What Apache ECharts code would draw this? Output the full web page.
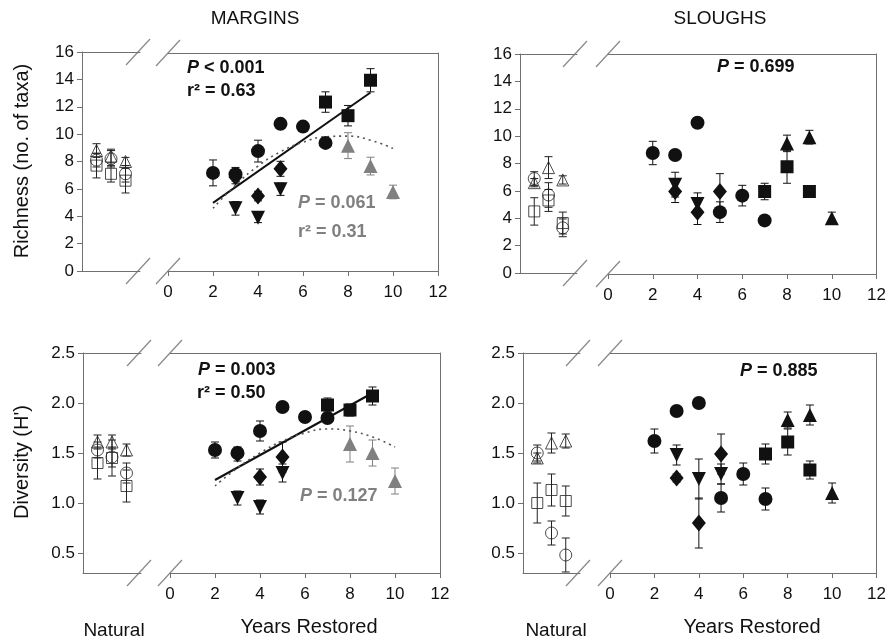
<!DOCTYPE html>
<html>
<head>
<meta charset="utf-8">
<script src="https://cdn.jsdelivr.net/npm/echarts@6/dist/echarts.min.js"></script>
<style>html,body{margin:0;padding:0;background:#fff}#main{width:889px;height:642px}</style>
</head>
<body>
<div id="main"></div>
<script>
// values are [x, mean, se]; natural sites are plotted at x = 1, 2, 3
// --- margins, richness ---
const mrNatTri = [[1, 8.8, 0.5], [2, 8.4, 0.5], [3, 8.0, 0.3]];
const mrNatCirc = [[1, 8.1, 0.5], [2, 8.2, 0.6], [3, 7.1, 0.6]];
const mrNatSq = [[1, 7.7, 0.9], [2, 7.1, 0.6], [3, 6.6, 0.9]];
const mrCirc = [[2, 7.2, 0.95], [3, 7.1, 0.5], [4, 8.8, 0.8], [5, 10.8, 0.2], [6, 10.6, 0.2], [7, 9.4, 0.2]];
const mrDiam = [[3, 6.9, 0.5], [4, 5.5, 0.35], [5, 7.5, 0.55]];
const mrDown = [[3, 4.6, 0.5], [4, 3.9, 0.35], [5, 6.0, 0.45]];
const mrSq = [[7, 12.4, 0.75], [8, 11.4, 0.75], [9, 14.0, 0.85]];
const mrGreyTri = [[8, 9.2, 0.95], [9, 7.7, 0.65], [10, 5.8, 0.5]];
const mrFit = [[2, 5.0], [9, 13.1]];
const mrCurve = [[2, 4.6], [3, 6.3], [4, 7.7], [5, 8.75], [6, 9.45], [7, 9.85], [8, 9.9], [9, 9.6], [10, 9.0]];

// --- margins, diversity ---
const mdNatTri = [[1, 1.61, 0.07], [2, 1.61, 0.07], [3, 1.53, 0.06]];
const mdNatCirc = [[1, 1.53, 0.08], [2, 1.46, 0.1], [3, 1.30, 0.1]];
const mdNatSq = [[1, 1.40, 0.16], [2, 1.45, 0.18], [3, 1.17, 0.16]];
const mdCirc = [[2, 1.53, 0.08], [3, 1.50, 0.05], [4, 1.72, 0.1], [5, 1.96, 0.04], [6, 1.86, 0.03], [7, 1.85, 0.04]];
const mdDiam = [[3, 1.49, 0.07], [4, 1.26, 0.08], [5, 1.46, 0.15]];
const mdDown = [[3, 1.05, 0.07], [4, 0.96, 0.07], [5, 1.30, 0.09]];
const mdSq = [[7, 1.98, 0.07], [8, 1.93, 0.06], [9, 2.07, 0.09]];
const mdGreyTri = [[8, 1.59, 0.18], [9, 1.50, 0.13], [10, 1.22, 0.13]];
const mdFit = [[2, 1.23], [9, 2.10]];
const mdCurve = [[2, 1.17], [3, 1.35], [4, 1.50], [5, 1.62], [6, 1.70], [7, 1.74], [8, 1.72], [9, 1.66], [10, 1.56]];

// --- sloughs, richness ---
const srNatTri = [[1, 6.6, 0.3], [2, 7.7, 0.8], [3, 6.8, 0.3]];
const srNatCirc = [[1, 6.9, 0.5], [2, 5.7, 0.9], [3, 3.3, 0.65]];
const srNatSq = [[1, 4.5, 1.0], [2, 5.3, 0.8], [3, 3.65, 0.8]];
const srCirc = [[2, 8.8, 0.85], [3, 8.65, 0.2], [4, 11.0, 0.2], [5, 4.5, 0.75], [6, 5.7, 0.75], [7, 3.9, 0.2]];
const srDiam = [[3, 6.0, 0.8], [4, 4.5, 0.9], [5, 6.0, 1.3]];
const srDown = [[3, 6.5, 0.9], [4, 5.1, 0.8]];
const srSq = [[7, 6.0, 0.6], [8, 7.8, 1.2], [9, 6.0, 0.2]];
const srTri = [[8, 9.5, 0.6], [9, 9.95, 0.5], [10, 4.05, 0.45]];

// --- sloughs, diversity ---
const sdNatTri = [[1, 1.45, 0.05], [2, 1.60, 0.1], [3, 1.62, 0.07]];
const sdNatCirc = [[1, 1.50, 0.08], [2, 0.70, 0.12], [3, 0.48, 0.17]];
const sdNatSq = [[1, 1.0, 0.2], [2, 1.13, 0.16], [3, 1.02, 0.15]];
const sdCirc = [[2, 1.62, 0.12], [3, 1.92, 0.03], [4, 2.0, 0.03], [5, 1.05, 0.14], [6, 1.29, 0.11], [7, 1.04, 0.11]];
const sdDiam = [[3, 1.25, 0.04], [4, 0.80, 0.25], [5, 1.49, 0.2]];
const sdDown = [[3, 1.48, 0.1], [4, 1.24, 0.2], [5, 1.29, 0.1]];
const sdSq = [[7, 1.49, 0.1], [8, 1.61, 0.13], [9, 1.33, 0.09]];
const sdTri = [[8, 1.83, 0.08], [9, 1.88, 0.1], [10, 1.10, 0.1]];

const richTicks = [0, 2, 4, 6, 8, 10, 12, 14, 16];
const divTicks = [0.5, 1.0, 1.5, 2.0, 2.5];

const FONT = "'Liberation Sans', Arial, sans-serif";
const AX = '#707070';
const GREY = '#808080';

// grid boxes: natural / restored for each panel
const G = [
  { left: 82, top: 52, width: 58, height: 219 },
  { left: 168, top: 53, width: 270, height: 218 },
  { left: 520, top: 54, width: 57, height: 219 },
  { left: 608, top: 54, width: 270, height: 220 },
  { left: 83, top: 353, width: 58, height: 220 },
  { left: 170, top: 353, width: 270, height: 220 },
  { left: 523, top: 353, width: 57, height: 220 },
  { left: 610, top: 353, width: 270, height: 220 },
];

const xAxis = [];
const yAxis = [];
G.forEach((g, i) => {
  const nat = i % 2 === 0;
  const rich = i < 4;
  const line = { show: true, onZero: false, lineStyle: { color: AX, width: 1 } };
  xAxis.push({
    gridIndex: i, type: 'value', position: 'bottom',
    min: 0, max: nat ? 4 : 12, interval: 2,
    axisLine: line, splitLine: { show: false },
    axisTick: { show: !nat, length: 5, lineStyle: { color: AX } },
    axisLabel: { show: !nat, margin: 13, fontSize: 17, color: '#111', fontFamily: FONT }
  });
  xAxis.push({
    gridIndex: i, type: 'value', position: 'top', min: 0, max: nat ? 4 : 12,
    axisLine: line, axisTick: { show: false }, axisLabel: { show: false }, splitLine: { show: false }
  });
  const yb = rich ? { min: 0, max: 16, interval: 2 } : { min: 0.3, max: 2.5 };
  yAxis.push(Object.assign({
    gridIndex: i, type: 'value', position: nat ? 'left' : 'right',
    axisLine: line, splitLine: { show: false },
    axisTick: nat ? { show: true, length: 5, lineStyle: { color: AX }, customValues: rich ? richTicks : divTicks } : { show: false },
    axisLabel: nat ? {
      show: true, margin: 8, fontSize: 17, color: '#111', fontFamily: FONT,
      customValues: rich ? richTicks : divTicks,
      formatter: v => rich ? String(v) : v.toFixed(1)
    } : { show: false }
  }, yb));
});

function errBars(data, grid, color) {
  return {
    type: 'custom', xAxisIndex: grid * 2, yAxisIndex: grid, z: 1, silent: true,
    data: data.map(d => [d[0], d[1] - d[2], d[1] + d[2]]),
    encode: { x: 0, y: [1, 2] },
    renderItem(params, api) {
      const lo = api.coord([api.value(0), api.value(1)]);
      const hi = api.coord([api.value(0), api.value(2)]);
      const w = 4;
      const st = { stroke: color, lineWidth: 1 };
      return {
        type: 'group', children: [
          { type: 'line', shape: { x1: lo[0], y1: lo[1], x2: hi[0], y2: hi[1] }, style: st },
          { type: 'line', shape: { x1: lo[0] - w, y1: lo[1], x2: lo[0] + w, y2: lo[1] }, style: st },
          { type: 'line', shape: { x1: hi[0] - w, y1: hi[1], x2: hi[0] + w, y2: hi[1] }, style: st }
        ]
      };
    }
  };
}

const SYM = {
  circ: { symbol: 'circle', symbolSize: 14 },
  sq: { symbol: 'rect', symbolSize: 13 },
  tri: { symbol: 'triangle', symbolSize: 14 },
  down: { symbol: 'triangle', symbolSize: 14, symbolRotate: 180 },
  diam: { symbol: 'diamond', symbolSize: [14, 17] },
  oCirc: { symbol: 'circle', symbolSize: 12 },
  oSq: { symbol: 'rect', symbolSize: 11 },
  oTri: { symbol: 'triangle', symbolSize: 12 }
};

function pts(data, grid, kind, color, open) {
  return Object.assign({
    type: 'scatter', xAxisIndex: grid * 2, yAxisIndex: grid, z: 3, silent: true,
    data: data.map(d => [d[0], d[1]]),
    itemStyle: open
      ? { color: 'rgba(0,0,0,0)', borderColor: '#222', borderWidth: 1 }
      : { color: color, opacity: 1 }
  }, SYM[kind]);
}

function group(list) {
  // list: [data, grid, kind, color, open]
  const out = [];
  list.forEach(([d, g, k, c, o]) => {
    out.push(errBars(d, g, o ? '#222' : c));
    out.push(pts(d, g, k, c, o));
  });
  return out;
}

const series = [].concat(
  group([
    [mrNatTri, 0, 'oTri', '#222', true], [mrNatCirc, 0, 'oCirc', '#222', true], [mrNatSq, 0, 'oSq', '#222', true],
    [mrCirc, 1, 'circ', '#111'], [mrDiam, 1, 'diam', '#111'], [mrDown, 1, 'down', '#111'],
    [mrSq, 1, 'sq', '#111'], [mrGreyTri, 1, 'tri', GREY],
    [srNatTri, 2, 'oTri', '#222', true], [srNatCirc, 2, 'oCirc', '#222', true], [srNatSq, 2, 'oSq', '#222', true],
    [srCirc, 3, 'circ', '#111'], [srDiam, 3, 'diam', '#111'], [srDown, 3, 'down', '#111'],
    [srSq, 3, 'sq', '#111'], [srTri, 3, 'tri', '#111'],
    [mdNatTri, 4, 'oTri', '#222', true], [mdNatCirc, 4, 'oCirc', '#222', true], [mdNatSq, 4, 'oSq', '#222', true],
    [mdCirc, 5, 'circ', '#111'], [mdDiam, 5, 'diam', '#111'], [mdDown, 5, 'down', '#111'],
    [mdSq, 5, 'sq', '#111'], [mdGreyTri, 5, 'tri', GREY],
    [sdNatTri, 6, 'oTri', '#222', true], [sdNatCirc, 6, 'oCirc', '#222', true], [sdNatSq, 6, 'oSq', '#222', true],
    [sdCirc, 7, 'circ', '#111'], [sdDiam, 7, 'diam', '#111'], [sdDown, 7, 'down', '#111'],
    [sdSq, 7, 'sq', '#111'], [sdTri, 7, 'tri', '#111']
  ]),
  [
    { type: 'line', xAxisIndex: 2, yAxisIndex: 1, data: mrFit, showSymbol: false, silent: true, z: 2,
      lineStyle: { color: '#111', width: 2 } },
    { type: 'line', xAxisIndex: 2, yAxisIndex: 1, data: mrCurve, smooth: true, showSymbol: false, silent: true, z: 2,
      lineStyle: { color: '#555', width: 1.6, type: [2, 4] } },
    { type: 'line', xAxisIndex: 10, yAxisIndex: 5, data: mdFit, showSymbol: false, silent: true, z: 2,
      lineStyle: { color: '#111', width: 2 } },
    { type: 'line', xAxisIndex: 10, yAxisIndex: 5, data: mdCurve, smooth: true, showSymbol: false, silent: true, z: 2,
      lineStyle: { color: '#555', width: 1.6, type: [2, 4] } }
  ]
);

// axis-break slashes and text
const graphic = [];
for (let p = 0; p < 4; p++) {
  const n = G[p * 2], r = G[p * 2 + 1];
  [[n.left + n.width - 2, n.top, r.left, r.top], [n.left + n.width - 2, n.top + n.height, r.left, r.top + r.height]]
    .forEach(([x1, y1, x2, y2]) => {
      [[x1, y1], [x2, y2]].forEach(([cx, cy]) => {
        graphic.push({ type: 'line', silent: true,
          shape: { x1: cx - 12, y1: cy + 13, x2: cx + 12, y2: cy - 13 },
          style: { stroke: '#888', lineWidth: 1.2 } });
      });
    });
}

function txt(x, y, text, opt) {
  graphic.push({ type: 'text', x: x, y: y, silent: true, rotation: opt.rot || 0,
    style: Object.assign({ text: text, fontFamily: FONT, fill: '#111', fontSize: 17,
      align: 'center', verticalAlign: 'middle' }, opt.style || {}) });
}
const ital = { i: { fontStyle: 'italic', fontWeight: 'bold', fontSize: 18, fontFamily: FONT } };
const iGrey = { i: { fontStyle: 'italic', fontWeight: 'bold', fontSize: 18, fontFamily: FONT, fill: GREY } };

txt(255, 19, 'MARGINS', { style: { fontSize: 19 } });
txt(720, 19, 'SLOUGHS', { style: { fontSize: 19 } });
txt(114, 631, 'Natural', { style: { fontSize: 19 } });
txt(556, 631, 'Natural', { style: { fontSize: 19 } });
txt(309, 627, 'Years Restored', { style: { fontSize: 20 } });
txt(752, 627, 'Years Restored', { style: { fontSize: 20 } });
txt(22, 161, 'Richness (no. of taxa)', { rot: Math.PI / 2, style: { fontSize: 20 } });
txt(22, 462, "Diversity (H')", { rot: Math.PI / 2, style: { fontSize: 20 } });

const B = { fontWeight: 'bold', fontSize: 18, align: 'left' };
txt(187, 68, '{i|P} < 0.001', { style: Object.assign({ rich: ital }, B) });
txt(187, 91, 'r² = 0.63', { style: B });
txt(298, 203, '{i|P} = 0.061', { style: Object.assign({ rich: iGrey }, B, { fill: GREY }) });
txt(298, 232, 'r² = 0.31', { style: Object.assign({}, B, { fill: GREY }) });
txt(198, 370, '{i|P} = 0.003', { style: Object.assign({ rich: ital }, B) });
txt(197, 393, 'r² = 0.50', { style: B });
txt(300, 496, '{i|P} = 0.127', { style: Object.assign({ rich: iGrey }, B, { fill: GREY }) });
txt(717, 67, '{i|P} = 0.699', { style: Object.assign({ rich: ital }, B) });
txt(740, 371, '{i|P} = 0.885', { style: Object.assign({ rich: ital }, B) });

const chart = echarts.init(document.getElementById('main'));
chart.setOption({
  animation: false,
  backgroundColor: '#fff',
  grid: G.map(g => Object.assign({ containLabel: false }, g)),
  xAxis: xAxis,
  yAxis: yAxis,
  series: series,
  graphic: graphic
});
</script>
</body>
</html>
